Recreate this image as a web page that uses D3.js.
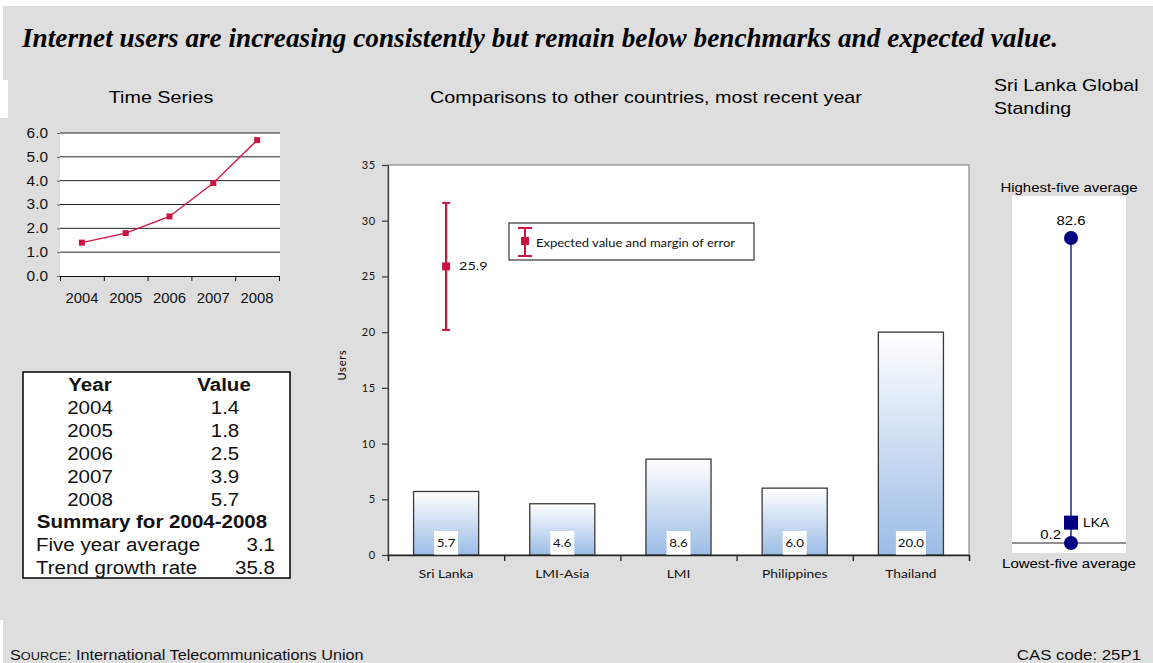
<!DOCTYPE html>
<html>
<head>
<meta charset="utf-8">
<script src="https://cdn.jsdelivr.net/npm/d3@7"></script>
<style>
  html, body { margin: 0; padding: 0; background: #ffffff; }
  svg { display: block; }
</style>
</head>
<body>
<svg id="chart" width="1153" height="663"></svg>
<script>
// ---- Data ----
const years = ["2004", "2005", "2006", "2007", "2008"];
const userValues = [1.4, 1.8, 2.5, 3.9, 5.7];
const timeTicks = [0, 1, 2, 3, 4, 5, 6];

const summaryLabels = ["Five year average", "Trend growth rate"];
const summaryValues = ["3.1", "35.8"];

const countries = ["Sri Lanka", "LMI-Asia", "LMI", "Philippines", "Thailand"];
const countryValues = [5.7, 4.6, 8.6, 6.0, 20.0];
const barTicks = [0, 5, 10, 15, 20, 25, 30, 35];

const expectedValue = [25.9];
const expectedLow = [20.2];
const expectedHigh = [31.6];

const standingEnds = [0.2, 82.6];      // lowest-five average, highest-five average
const standingCountry = ["LKA"];
const standingValue = [5.7];

// ---- Setup ----
const svg = d3.select("#chart");
const GRAY = "#dedede";
const RED = "#cc1443";
const NAVY = "#000080";
const SANS = "'Liberation Sans', Arial, sans-serif";
const HUMAN = "Lato, 'Open Sans', sans-serif";

// widen text horizontally by factor k (keeps glyph height)
function widen(sel, k) {
  sel.each(function () {
    const L = this.getComputedTextLength();
    this.setAttribute("textLength", (L * k).toFixed(1));
    this.setAttribute("lengthAdjust", "spacingAndGlyphs");
  });
  return sel;
}

// page panels
svg.append("rect").attr("x", 0).attr("y", 0).attr("width", 1153).attr("height", 663).attr("fill", GRAY);
svg.append("rect").attr("x", 0).attr("y", 0).attr("width", 1153).attr("height", 6).attr("fill", "#fff");
svg.append("rect").attr("x", 0).attr("y", 0).attr("width", 3).attr("height", 118).attr("fill", "#fff");
svg.append("rect").attr("x", 0).attr("y", 80).attr("width", 8).attr("height", 38).attr("fill", "#fff");
svg.append("rect").attr("x", 0).attr("y", 620).attr("width", 3).attr("height", 43).attr("fill", "#fff");

// headline
svg.append("text")
  .attr("x", 22).attr("y", 47)
  .attr("font-family", "'Liberation Serif', 'Times New Roman', serif")
  .attr("font-weight", "bold").attr("font-style", "italic")
  .attr("font-size", 27)
  .attr("textLength", 1036).attr("lengthAdjust", "spacingAndGlyphs")
  .text("Internet users are increasing consistently but remain below benchmarks and expected value.");

// ---- Time series ----
const ts = svg.append("g");
widen(ts.append("text").attr("x", 161).attr("y", 103).attr("text-anchor", "middle")
  .attr("font-family", SANS).attr("font-size", 17).text("Time Series"), 1.16);

const tx = d3.scaleBand().domain(years).range([60, 279]);
const ty = d3.scaleLinear().domain([0, 6]).range([276, 133]);

ts.append("rect").attr("x", 60).attr("y", ty(6)).attr("width", 220).attr("height", ty(0) - ty(6)).attr("fill", "#fff");

ts.append("g").selectAll("line").data(timeTicks.filter(d => d > 0)).join("line")
  .attr("x1", 60).attr("x2", 280)
  .attr("y1", d => ty(d)).attr("y2", d => ty(d))
  .attr("stroke", "#222").attr("stroke-width", 1);

const tsY = ts.append("g").attr("transform", "translate(60,0)")
  .call(d3.axisLeft(ty).tickValues(timeTicks).tickFormat(d3.format(".1f")).tickSize(3).tickPadding(9));
tsY.select(".domain").remove();
tsY.selectAll("line").attr("stroke", "#666");
widen(tsY.selectAll("text").attr("font-family", SANS).attr("font-size", 14).attr("fill", "#111"), 1.1);

// x axis: labels in bands, ticks on band boundaries
const tsEdge = d3.scaleLinear().domain([0, years.length]).range([60, 279]);
const tsXt = ts.append("g").attr("transform", `translate(0,${ty(0)})`)
  .call(d3.axisBottom(tsEdge).ticks(years.length).tickFormat("").tickSize(5).tickSizeOuter(5));
tsXt.selectAll("path,line").attr("stroke", "#111");
const tsXl = ts.append("g").attr("transform", `translate(0,${ty(0)})`)
  .call(d3.axisBottom(tx).tickSize(0).tickPadding(17));
tsXl.select(".domain").remove();
widen(tsXl.selectAll("text").attr("font-family", SANS).attr("font-size", 14).attr("fill", "#111"), 1.06);

const tsLine = d3.line().x((d, i) => tx(years[i]) + tx.bandwidth() / 2).y(d => ty(d));
ts.append("path").datum(userValues).attr("d", tsLine)
  .attr("fill", "none").attr("stroke", RED).attr("stroke-width", 1.3);
ts.append("g").selectAll("rect").data(userValues).join("rect")
  .attr("x", (d, i) => tx(years[i]) + tx.bandwidth() / 2 - 3)
  .attr("y", d => ty(d) - 3)
  .attr("width", 6).attr("height", 6).attr("fill", RED);

// ---- Data table ----
const tb = svg.append("g").attr("font-family", SANS).attr("font-size", 18).attr("fill", "#111");
tb.append("rect").attr("x", 23).attr("y", 372).attr("width", 267).attr("height", 206)
  .attr("fill", "#fff").attr("stroke", "#000").attr("stroke-width", 1.5);
const rowY = i => 391 + i * 22.9;
tb.append("text").attr("x", 90).attr("y", rowY(0)).attr("text-anchor", "middle").attr("font-weight", "bold").text("Year");
tb.append("text").attr("x", 224).attr("y", rowY(0)).attr("text-anchor", "middle").attr("font-weight", "bold").text("Value");
years.forEach((yr, i) => {
  tb.append("text").attr("x", 90).attr("y", rowY(i + 1)).attr("text-anchor", "middle").text(yr);
  tb.append("text").attr("x", 225).attr("y", rowY(i + 1)).attr("text-anchor", "middle").text(d3.format(".1f")(userValues[i]));
});
tb.append("text").attr("x", 152).attr("y", rowY(6)).attr("text-anchor", "middle").attr("font-weight", "bold")
  .text(`Summary for ${years[0]}-${years[years.length - 1]}`);
summaryLabels.forEach((lab, i) => {
  tb.append("text").attr("x", 36).attr("y", rowY(7 + i)).text(lab);
  tb.append("text").attr("x", 275).attr("y", rowY(7 + i)).attr("text-anchor", "end").text(summaryValues[i]);
});
widen(tb.selectAll("text"), 1.14);

// ---- Country comparison ----
const bc = svg.append("g");
widen(bc.append("text").attr("x", 646).attr("y", 103).attr("text-anchor", "middle")
  .attr("font-family", SANS).attr("font-size", 17).text("Comparisons to other countries, most recent year"), 1.16);

const bx = d3.scaleBand().domain(countries).range([388, 969]).paddingInner(0.44).paddingOuter(0.22);
const by = d3.scaleLinear().domain([0, 35]).range([555, 165]);

bc.append("rect").attr("x", 388).attr("y", by(35)).attr("width", 581).attr("height", by(0) - by(35))
  .attr("fill", "#fff").attr("stroke", "#888").attr("stroke-width", 1.2);

const defs = svg.append("defs");
const grad = defs.append("linearGradient").attr("id", "barFill").attr("x1", 0).attr("y1", 0).attr("x2", 0).attr("y2", 1);
grad.append("stop").attr("offset", "0%").attr("stop-color", "#ffffff");
grad.append("stop").attr("offset", "100%").attr("stop-color", "#9bbce6");

bc.append("g").selectAll("rect").data(countryValues).join("rect")
  .attr("x", (d, i) => bx(countries[i]))
  .attr("y", d => by(d))
  .attr("width", bx.bandwidth())
  .attr("height", d => by(0) - by(d))
  .attr("fill", "url(#barFill)")
  .attr("stroke", "#3a3a3a").attr("stroke-width", 1.3);

// value tags at the foot of each bar
const tags = bc.append("g").attr("font-family", HUMAN).attr("font-size", 11.5).attr("fill", "#111");
countryValues.forEach((v, i) => {
  const cx = bx(countries[i]) + bx.bandwidth() / 2;
  const label = d3.format(".1f")(v);
  const w = label.length > 3 ? 30 : 24;
  tags.append("rect").attr("x", cx - w / 2).attr("y", by(0) - 24).attr("width", w).attr("height", 24).attr("fill", "#fff");
  widen(tags.append("text").attr("x", cx).attr("y", by(0) - 8).attr("text-anchor", "middle").text(label), 1.15);
});

const byAxis = bc.append("g").attr("transform", "translate(388,0)")
  .call(d3.axisLeft(by).tickValues(barTicks).tickSize(6).tickSizeOuter(0).tickPadding(6));
byAxis.selectAll("path,line").attr("stroke", "#444").attr("stroke-width", 1.3);
byAxis.selectAll("text").attr("font-family", HUMAN).attr("font-size", 11).attr("fill", "#111").attr("letter-spacing", 0.8);

const bEdge = d3.scaleLinear().domain([0, countries.length]).range([388, 969]);
const bxAxis = bc.append("g").attr("transform", `translate(0,${by(0)})`)
  .call(d3.axisBottom(bEdge).ticks(countries.length).tickFormat("").tickSize(6).tickSizeOuter(6));
bxAxis.selectAll("path,line").attr("stroke", "#222").attr("stroke-width", 1.3);
const bxLab = bc.append("g").attr("transform", `translate(0,${by(0)})`)
  .call(d3.axisBottom(bx).tickSize(0).tickPadding(15));
bxLab.select(".domain").remove();
widen(bxLab.selectAll("text").attr("font-family", HUMAN).attr("font-size", 11).attr("fill", "#111"), 1.25);

bc.append("text").attr("transform", "translate(346,365) rotate(-90)").attr("text-anchor", "middle")
  .attr("font-family", HUMAN).attr("font-size", 11).attr("letter-spacing", 0.8).text("Users");

// expected value with margin of error (Sri Lanka)
const ex = bx(countries[0]) + bx.bandwidth() / 2;
const eb = bc.append("g");
eb.append("line").attr("x1", ex).attr("x2", ex).attr("y1", by(expectedLow[0])).attr("y2", by(expectedHigh[0]))
  .attr("stroke", RED).attr("stroke-width", 2.2);
[expectedLow[0], expectedHigh[0]].forEach(v => {
  eb.append("line").attr("x1", ex - 4).attr("x2", ex + 4).attr("y1", by(v)).attr("y2", by(v))
    .attr("stroke", RED).attr("stroke-width", 2);
});
eb.append("rect").attr("x", ex - 4).attr("y", by(expectedValue[0]) - 4).attr("width", 8).attr("height", 8).attr("fill", RED);
widen(eb.append("text").attr("x", ex + 13).attr("y", by(expectedValue[0]) + 4)
  .attr("font-family", HUMAN).attr("font-size", 12).attr("fill", "#111").text(d3.format(".1f")(expectedValue[0])), 1.2);

// legend
const lg = bc.append("g");
lg.append("rect").attr("x", 509).attr("y", 223).attr("width", 245).attr("height", 37)
  .attr("fill", "#fff").attr("stroke", "#333").attr("stroke-width", 1.2);
lg.append("line").attr("x1", 525).attr("x2", 525).attr("y1", 228).attr("y2", 256).attr("stroke", RED).attr("stroke-width", 2);
[228, 256].forEach(yv => lg.append("line").attr("x1", 518).attr("x2", 532).attr("y1", yv).attr("y2", yv).attr("stroke", RED).attr("stroke-width", 2));
lg.append("rect").attr("x", 521).attr("y", 237).attr("width", 8).attr("height", 8).attr("fill", RED);
widen(lg.append("text").attr("x", 536).attr("y", 247).attr("font-family", HUMAN).attr("font-size", 11.5)
  .attr("fill", "#111").text("Expected value and margin of error"), 1.13);

// ---- Global standing ----
const gs = svg.append("g").attr("font-family", SANS);
widen(gs.append("text").attr("x", 994).attr("y", 91).attr("font-size", 17).text("Sri Lanka Global"), 1.15);
widen(gs.append("text").attr("x", 994).attr("y", 114).attr("font-size", 17).text("Standing"), 1.15);
widen(gs.append("text").attr("x", 1069).attr("y", 192).attr("text-anchor", "middle").attr("font-size", 13).text("Highest-five average"), 1.15);
widen(gs.append("text").attr("x", 1069).attr("y", 568).attr("text-anchor", "middle").attr("font-size", 13).text("Lowest-five average"), 1.15);

const sy = d3.scaleLinear().domain(standingEnds).range([543, 238]);
const sx = 1071;
gs.append("rect").attr("x", 1012).attr("y", 196).attr("width", 114).attr("height", 357).attr("fill", "#fff");
gs.append("line").attr("x1", 1012).attr("x2", 1126).attr("y1", sy(standingEnds[0])).attr("y2", sy(standingEnds[0]))
  .attr("stroke", "#222").attr("stroke-width", 1);
gs.append("line").attr("x1", sx).attr("x2", sx).attr("y1", sy(standingEnds[0])).attr("y2", sy(standingEnds[1]))
  .attr("stroke", NAVY).attr("stroke-width", 1.3);
gs.append("g").selectAll("circle").data(standingEnds).join("circle")
  .attr("cx", sx).attr("cy", d => sy(d)).attr("r", 7).attr("fill", NAVY);
widen(gs.append("text").attr("x", sx).attr("y", sy(standingEnds[1]) - 13).attr("text-anchor", "middle").attr("font-size", 13)
  .text(d3.format(".1f")(standingEnds[1])), 1.15);
widen(gs.append("text").attr("x", sx - 10).attr("y", sy(standingEnds[0]) - 4).attr("text-anchor", "end").attr("font-size", 13)
  .text(d3.format(".1f")(standingEnds[0])), 1.15);
gs.append("rect").attr("x", sx - 7).attr("y", sy(standingValue[0]) - 7).attr("width", 14).attr("height", 14).attr("fill", NAVY);
widen(gs.append("text").attr("x", sx + 12).attr("y", sy(standingValue[0]) + 4).attr("font-size", 12).text(standingCountry[0]), 1.15);

// ---- Footer ----
const ft = svg.append("g").attr("font-family", "'Liberation Sans Narrow', 'Arial Narrow', 'Liberation Sans', sans-serif").attr("fill", "#111");
const src = ft.append("text").attr("x", 10).attr("y", 660).attr("font-size", 14);
src.append("tspan").text("S");
src.append("tspan").attr("font-size", 11).text("OURCE");
src.append("tspan").text(": International Telecommunications Union");
widen(src, 1.16);
widen(ft.append("text").attr("x", 1141).attr("y", 660).attr("text-anchor", "end").attr("font-size", 14).text("CAS code: 25P1"), 1.2);
</script>
</body>
</html>
